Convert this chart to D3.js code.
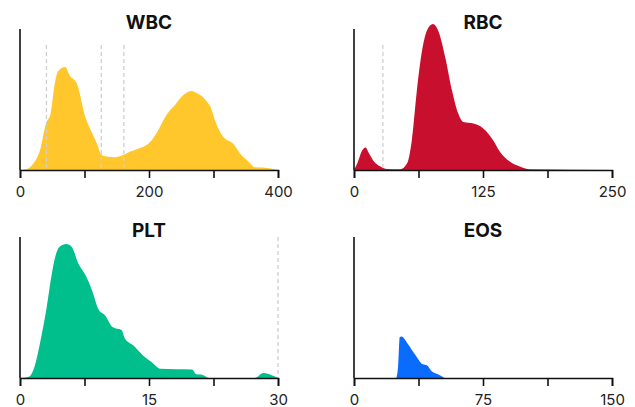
<!DOCTYPE html>
<html>
<head>
<meta charset="utf-8">
<script src="https://cdn.jsdelivr.net/npm/d3@7"></script>
<style>
  body { margin: 0; background: #fff; }
  .title { font-family: Inter, "Noto Sans", sans-serif; font-weight: 700; font-size: 19px; fill: #111; }
  .tick text { font-family: Inter, "Noto Sans", sans-serif; font-size: 15px; fill: #222; }
</style>
</head>
<body>
<svg id="chart" width="635" height="407"></svg>
<script>
// WBC histogram (size, relative count)
var wbcSize  = [0, 10, 21, 31, 41, 47, 54, 59, 70, 77, 88, 101, 111, 119, 126, 134, 147, 160, 170, 181, 202, 214, 227, 240, 253, 266, 276, 287, 295, 305, 315, 331, 341, 354, 364, 377, 400];
var wbcCount = [0, 0.5, 4.7, 14, 34, 39, 61.5, 70, 73, 67, 61.5, 38, 27, 19, 11, 9.5, 9, 10.6, 13, 14.7, 20, 28, 39, 46, 53, 56, 54, 50, 45, 32, 23.6, 18.4, 11.8, 6, 2, 1.7, 0];
var wbcMarks = [41, 126, 161];

// RBC histogram
var rbcSize  = [0, 3.2, 8, 11.2, 14.5, 19.3, 25.7, 32, 45, 51.4, 56, 61, 66, 70.7, 76.5, 82, 88.4, 94.8, 101, 106, 115.7, 125.3, 135, 141.4, 151, 160.7, 170, 250];
var rbcCount = [0, 4.7, 14, 16, 11.8, 6, 2.4, 0.7, 0.5, 4.7, 21, 57, 85, 99, 103.5, 98, 80, 57, 40, 34, 33, 29.5, 21, 13, 6, 2.4, 0.5, 0];
var rbcMarks = [28];

// PLT histogram
var pltSize  = [0, 0.97, 1.74, 2.3, 3.1, 3.7, 4.1, 4.6, 5.4, 6, 6.8, 7.7, 8.5, 9.1, 9.9, 10.8, 11.8, 12.2, 13.2, 14.3, 15.3, 16.3, 20, 20.5, 21.1, 22, 27.3, 28.3, 29, 30];
var pltCount = [0, 0.7, 9, 24, 50, 74, 86, 93, 95, 93, 81, 72, 60, 49, 44.4, 36, 34, 28, 23, 16, 11.3, 6.6, 6, 2.6, 2.4, 0, 0, 3.5, 2.6, 0];
var pltMarks = [30];

// EOS histogram
var eosSize  = [24.7, 25.6, 26.6, 27.6, 31.4, 35.3, 40, 42.4, 45, 48.8, 52.6];
var eosCount = [0, 7.8, 29, 29.5, 24, 17, 9.7, 9, 5, 2.6, 0];
var eosMarks = [];

var xMaxes  = [400, 250, 30, 150];
var tickSets = [[0, 200, 400], [0, 125, 250], [0, 15, 30], [0, 75, 150]];

var panels = [
  { name: 'WBC', xs: wbcSize, ys: wbcCount, marks: wbcMarks, xMax: xMaxes[0], ticks: tickSets[0], color: '#FFC72C', left: 20,  top: 29 },
  { name: 'RBC', xs: rbcSize, ys: rbcCount, marks: rbcMarks, xMax: xMaxes[1], ticks: tickSets[1], color: '#C8102E', left: 354, top: 29 },
  { name: 'PLT', xs: pltSize, ys: pltCount, marks: pltMarks, xMax: xMaxes[2], ticks: tickSets[2], color: '#00BF8C', left: 20,  top: 237 },
  { name: 'EOS', xs: eosSize, ys: eosCount, marks: eosMarks, xMax: xMaxes[3], ticks: tickSets[3], color: '#0A6CFF', left: 354, top: 237 }
];

var w = 258, h = 141;
var svg = d3.select('#chart');

panels.forEach(function (p) {
  var g = svg.append('g').attr('transform', 'translate(' + p.left + ',' + p.top + ')');

  var x = d3.scaleLinear().domain([0, p.xMax]).range([0, w]);
  var y = d3.scaleLinear().domain([0, 100]).range([h, 0]);

  var pts = p.xs.map(function (v, i) { return [v, p.ys[i]]; });

  var area = d3.area()
    .x(function (d) { return x(d[0]); })
    .y0(h)
    .y1(function (d) { return y(d[1]); })
    .curve(d3.curveMonotoneX);

  g.append('path')
    .datum(pts)
    .attr('d', area)
    .attr('fill', p.color);

  // gate markers
  g.selectAll('.mark')
    .data(p.marks)
    .enter().append('line')
    .attr('class', 'mark')
    .attr('x1', function (d) { return x(d); })
    .attr('x2', function (d) { return x(d); })
    .attr('y1', p.name === 'PLT' ? 0 : 16)
    .attr('y2', h)
    .attr('stroke', '#cfcfcf')
    .attr('stroke-width', 1.3)
    .attr('stroke-dasharray', '4,3');

  // ticks every quarter, labels on half
  var xAxis = d3.axisBottom(x)
    .tickValues(d3.range(0, 5).map(function (i) { return p.xMax * i / 4; }))
    .tickSize(8)
    .tickPadding(8)
    .tickFormat(function (d) { return p.ticks.indexOf(d) >= 0 ? d : ''; });

  var ax = g.append('g')
    .attr('transform', 'translate(0,' + h + ')')
    .call(xAxis);
  ax.select('.domain').attr('stroke', '#111').attr('stroke-width', 1.6);
  ax.selectAll('.tick line').attr('stroke', '#111').attr('stroke-width', 1.6);

  g.append('line')
    .attr('x1', 0).attr('x2', 0)
    .attr('y1', 0).attr('y2', h)
    .attr('stroke', '#111')
    .attr('stroke-width', 1.6);

  g.append('text')
    .attr('class', 'title')
    .attr('x', w / 2)
    .attr('y', 0)
    .attr('text-anchor', 'middle')
    .text(p.name);
});
</script>
</body>
</html>
